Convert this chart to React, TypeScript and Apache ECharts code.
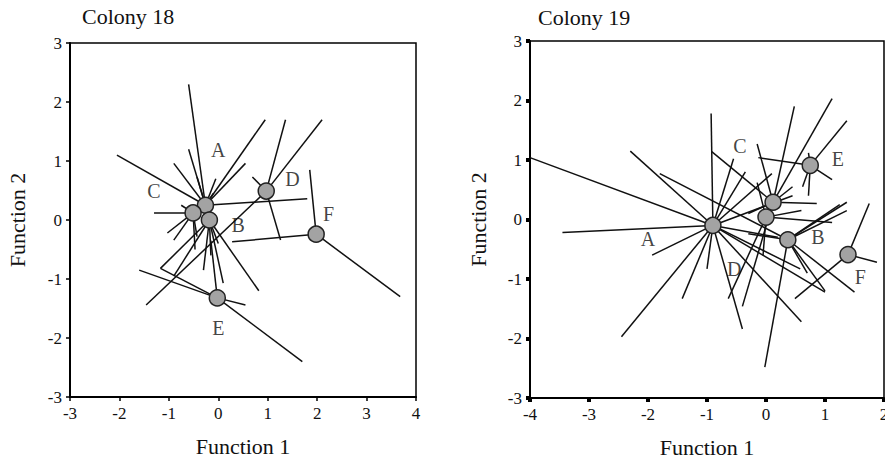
import React, { useEffect, useRef } from "react";
import * as echarts from "echarts";

// ---------- Colony 18 ----------
const groups = ["A", "B", "C", "D", "E", "F"];
const c18Centroids: [number, number][] = [
  [-0.26, 0.25], [-0.18, 0.0], [-0.51, 0.12], [0.97, 0.49], [-0.02, -1.32], [1.98, -0.24],
];
const c18A: [number, number][] = [
  [-0.6, 2.3], [-2.05, 1.1], [0.95, 1.7], [1.8, 0.36], [-0.9, 0.96], [-0.6, 1.2],
  [-0.43, 0.73], [-0.05, 0.7], [0.55, 0.96], [-0.1, 0.45],
];
const c18B: [number, number][] = [
  [0.1, -1.07], [-0.3, -0.85], [0.82, -1.2], [-0.9, -0.95], [-1.17, -0.82], [-0.15, -0.6], [0.0, -0.4],
];
const c18C: [number, number][] = [
  [-1.3, 0.12], [-1.03, -0.22], [-0.9, -0.34], [-0.47, -0.5], [-0.75, 0.25], [-0.43, -0.28],
];
const c18D: [number, number][] = [
  [1.36, 1.7], [2.1, 1.7], [0.69, 0.73], [1.26, -0.34], [-1.46, -1.44],
];
const c18E: [number, number][] = [
  [-1.6, -0.85], [0.55, -1.44], [1.7, -2.4], [-1.17, -0.82], [-0.15, -0.35],
];
const c18F: [number, number][] = [
  [1.85, 0.85], [0.28, -0.37], [3.68, -1.3],
];
const c18LabelAnchors: [number, number][] = [
  [0.0, 1.19], [0.4, -0.08], [-1.3, 0.5], [1.5, 0.7], [0.0, -1.83], [2.23, 0.1],
];

// ---------- Colony 19 ----------
const c19Centroids: [number, number][] = [
  [-0.9, -0.1], [0.37, -0.34], [0.12, 0.29], [0.0, 0.04], [0.75, 0.91], [1.39, -0.59],
];
const c19A: [number, number][] = [
  [-4, 1.04], [-3.45, -0.22], [-2.3, 1.15], [-1.93, -0.6], [-2.45, -1.97], [-0.93, 1.78],
  [-1.42, -1.33], [-1.0, -0.83], [-0.4, -1.84], [-0.55, 1.02], [-0.35, 0.8], [0.1, 0.77],
  [0.45, 0.4], [0.6, -1.72], [1.0, -1.22], [0.58, -0.83], [0.2, -0.3],
];
const c19B: [number, number][] = [
  [1.37, 0.29], [1.37, 0.15], [1.25, 0.25], [1.5, -1.22], [1.0, -1.2], [-1.8, 0.77],
  [-0.02, -2.48], [-0.3, -0.24], [0.7, -0.9],
];
const c19C: [number, number][] = [
  [0.48, 1.9], [1.12, 2.03], [-0.15, 1.27], [0.86, 0.27], [-0.4, -1.46], [-0.92, 1.14],
  [0.45, 0.55], [-0.3, 0.1],
];
const c19D: [number, number][] = [
  [-0.64, -1.33], [-0.05, -0.6], [0.6, 0.15], [1.12, -0.05], [-0.15, 0.62],
];
const c19E: [number, number][] = [
  [-0.13, 1.04], [1.37, 1.66], [0.72, 1.12], [1.12, 0.67], [0.62, 0.55], [0.72, 0.4],
];
const c19F: [number, number][] = [
  [1.75, 0.27], [1.88, -0.72], [0.49, -1.33],
];
const c19LabelAnchors: [number, number][] = [
  [-2.0, -0.32], [0.88, -0.3], [-0.44, 1.24], [-0.54, -0.83], [1.22, 1.02], [1.6, -0.96],
];

const xTicks18 = [-3, 4];
const xTicks19 = [-4, 2];
const yTicks = [-3, 3];

const FONT = "Liberation Serif";

function segs(centroids: [number, number][], pts: [number, number][][]) {
  const out: { coords: [number, number][] }[] = [];
  pts.forEach((list, gi) => {
    list.forEach((p) => out.push({ coords: [centroids[gi], p] }));
  });
  return out;
}

export default function App() {
  const ref = useRef<HTMLDivElement>(null);
  useEffect(() => {
    const chart = echarts.init(ref.current!, null, { renderer: "svg" });
    const axisCommon = {
      type: "value",
      interval: 1,
      splitLine: { show: false },
      axisLine: { show: true, onZero: false, lineStyle: { color: "#000", width: 2 } },
      axisLabel: { color: "#111", fontFamily: FONT, fontSize: 17 },
      nameTextStyle: { color: "#111", fontFamily: FONT, fontSize: 22 },
      nameLocation: "middle",
    };
    const titleStyle = { fontFamily: FONT, fontSize: 22, fontWeight: "normal", color: "#111" };
    const option: any = {
      animation: false,
      backgroundColor: "#fff",
      title: [
        { text: "Colony 18", left: 77, top: 0, textStyle: titleStyle },
        { text: "Colony 19", left: 533, top: 1, textStyle: titleStyle },
      ],
      grid: [
        { left: 70, top: 43, width: 346, height: 354, show: true, borderColor: "#000", borderWidth: 1.5, outerBoundsMode: "none", containLabel: false },
        { left: 530, top: 41, width: 354, height: 357, show: true, borderColor: "#000", borderWidth: 1.5, outerBoundsMode: "none", containLabel: false },
      ],
      xAxis: [
        { ...axisCommon, gridIndex: 0, min: xTicks18[0], max: xTicks18[1], name: "Function 1", nameGap: 38,
          axisTick: { show: true, length: 4, lineStyle: { color: "#000", width: 1.5 } } },
        { ...axisCommon, gridIndex: 1, min: xTicks19[0], max: xTicks19[1], name: "Function 1", nameGap: 38,
          axisTick: { show: true, length: 4, lineStyle: { color: "#000", width: 4 } } },
      ],
      yAxis: [
        { ...axisCommon, gridIndex: 0, min: yTicks[0], max: yTicks[1], name: "Function 2", nameGap: 42,
          axisTick: { show: true, length: 4, lineStyle: { color: "#000", width: 1.5 } } },
        { ...axisCommon, gridIndex: 1, min: yTicks[0], max: yTicks[1], name: "Function 2", nameGap: 41,
          axisTick: { show: true, length: 4, lineStyle: { color: "#000", width: 4 } } },
      ],
      series: [
        {
          type: "lines", coordinateSystem: "cartesian2d", xAxisIndex: 0, yAxisIndex: 0,
          lineStyle: { color: "#111", width: 1.5, opacity: 1 }, silent: true,
          data: segs(c18Centroids, [c18A, c18B, c18C, c18D, c18E, c18F]),
        },
        {
          type: "lines", coordinateSystem: "cartesian2d", xAxisIndex: 1, yAxisIndex: 1,
          lineStyle: { color: "#111", width: 1.5, opacity: 1 }, silent: true,
          data: segs(c19Centroids, [c19A, c19B, c19C, c19D, c19E, c19F]),
        },
        {
          type: "scatter", xAxisIndex: 0, yAxisIndex: 0, symbolSize: 16, z: 5,
          itemStyle: { color: "#a3a3a3", borderColor: "#222", borderWidth: 1.5, opacity: 1 },
          data: c18Centroids,
        },
        {
          type: "scatter", xAxisIndex: 1, yAxisIndex: 1, symbolSize: 16, z: 5,
          itemStyle: { color: "#a3a3a3", borderColor: "#222", borderWidth: 1.5, opacity: 1 },
          data: c19Centroids,
        },
        {
          type: "scatter", xAxisIndex: 0, yAxisIndex: 0, symbolSize: 0, z: 6,
          label: { show: true, position: "inside", formatter: (p: any) => p.value[2], fontFamily: FONT, fontSize: 20, color: "#111" },
          data: c18LabelAnchors.map((a, i) => [a[0], a[1], groups[i]]),
        },
        {
          type: "scatter", xAxisIndex: 1, yAxisIndex: 1, symbolSize: 0, z: 6,
          label: { show: true, position: "inside", formatter: (p: any) => p.value[2], fontFamily: FONT, fontSize: 20, color: "#111" },
          data: c19LabelAnchors.map((a, i) => [a[0], a[1], groups[i]]),
        },
      ],
    };
    chart.setOption(option);
    return () => chart.dispose();
  }, []);
  return <div ref={ref} style={{ position: "fixed", left: 0, top: 0, width: 885, height: 462, background: "#fff" }} />;
}
